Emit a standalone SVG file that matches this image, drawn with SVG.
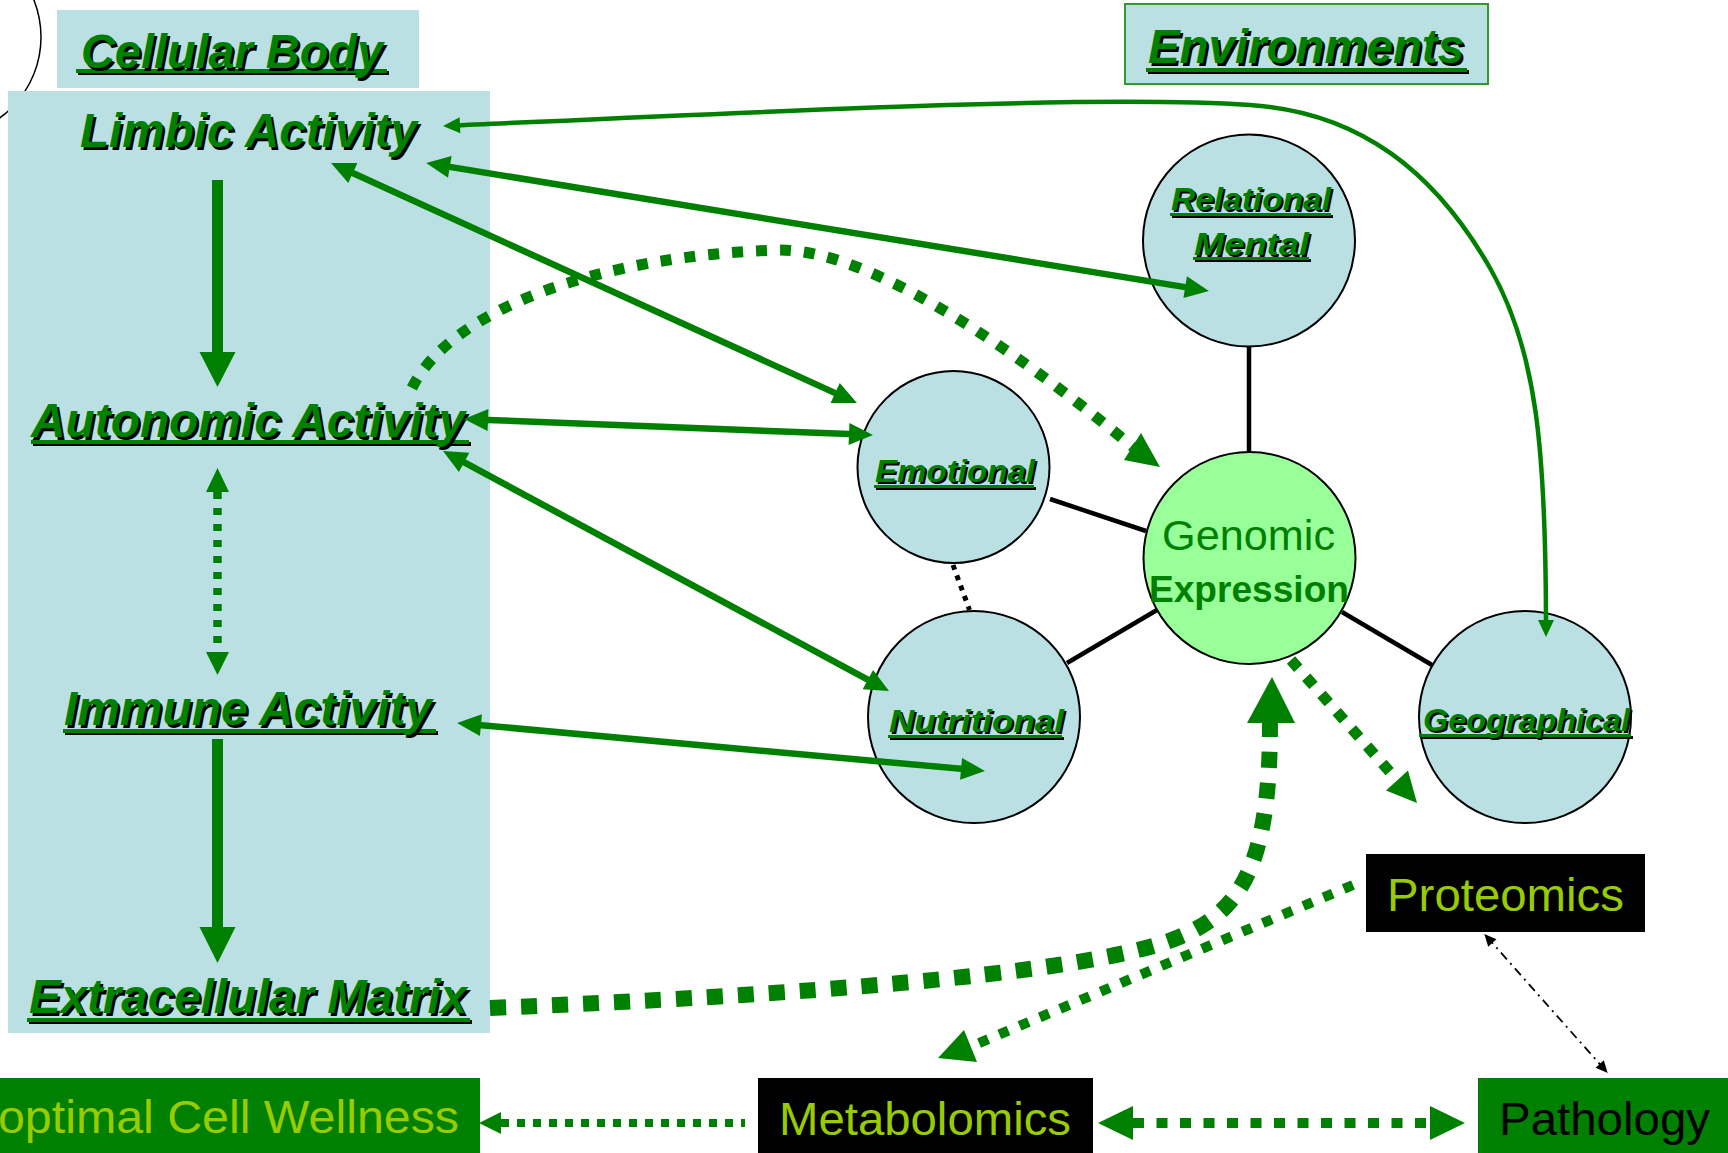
<svg xmlns="http://www.w3.org/2000/svg" width="1728" height="1153" viewBox="0 0 1728 1153">
<style>
.lab{font-family:"Liberation Sans",Arial,sans-serif;font-weight:bold;font-style:italic;fill:#008000}
.big{font-size:48px}
.sm{font-size:32px}
.sh{fill:#000}
.ul{fill:#008000}
.uls{fill:#000}
.panel{fill:#BBE0E3}
.node{fill:#BBE0E3;stroke:#000;stroke-width:2}
.blk{stroke:#000;stroke-width:4.5;fill:none}
.box{font-family:"Liberation Sans",Arial,sans-serif;font-size:47px}
.yg{fill:#99CC00}
.g{stroke:#008000;fill:none}
.gf{fill:#008000}
</style>
<defs>
<marker id="ah" markerUnits="userSpaceOnUse" viewBox="-15 -12 26 24" markerWidth="26" markerHeight="24" refX="0" refY="0" orient="auto-start-reverse"><path d="M-14,-11 L10,0 L-14,11 Z" fill="#008000"/></marker>
<marker id="as" markerUnits="userSpaceOnUse" viewBox="-11 -9 19 18" markerWidth="19" markerHeight="18" refX="0" refY="0" orient="auto-start-reverse"><path d="M-10,-8 L7,0 L-10,8 Z" fill="#008000"/></marker>
<marker id="ak" markerUnits="userSpaceOnUse" viewBox="-9 -6 14 12" markerWidth="14" markerHeight="12" refX="0" refY="0" orient="auto-start-reverse"><path d="M-8,-5.5 L4,0 L-8,5.5 Z" fill="#000"/></marker>
</defs>
<rect width="1728" height="1153" fill="#fff"/>
<circle cx="-59" cy="37" r="100" fill="none" stroke="#000" stroke-width="1.5"/>
<rect class="panel" x="8" y="91" width="482" height="942"/>
<g id="lines">
<line class="blk" x1="1249" y1="347" x2="1249" y2="452"/>
<line class="blk" x1="1050" y1="499" x2="1146" y2="531"/>
<line class="blk" x1="1067" y1="663" x2="1157" y2="610"/>
<line class="blk" x1="1342" y1="612" x2="1432" y2="665"/>
<line x1="953" y1="565" x2="969.5" y2="610" stroke="#000" stroke-width="5" stroke-dasharray="5 6"/>
</g>
<g id="cellular-body">
<rect class="panel" x="57" y="10" width="362" height="78"/>
<rect class="uls" x="78" y="71" width="311" height="4"/>
<rect class="ul" x="76" y="69" width="311" height="4"/>
<text class="lab big sh" x="83.5" y="70.5" textLength="302" lengthAdjust="spacingAndGlyphs">Cellular Body</text>
<text class="lab big" x="81" y="68" textLength="302" lengthAdjust="spacingAndGlyphs">Cellular Body</text>
</g>
<g id="limbic">
<text class="lab big sh" x="82.5" y="149.5" textLength="337" lengthAdjust="spacingAndGlyphs">Limbic Activity</text>
<text class="lab big" x="80" y="147" textLength="337" lengthAdjust="spacingAndGlyphs">Limbic Activity</text>
</g>
<g id="autonomic">
<rect class="uls" x="33" y="442" width="438" height="4"/>
<rect class="ul" x="31" y="440" width="438" height="4"/>
<text class="lab big sh" x="33.5" y="439.5" textLength="434" lengthAdjust="spacingAndGlyphs">Autonomic Activity</text>
<text class="lab big" x="31" y="437" textLength="434" lengthAdjust="spacingAndGlyphs">Autonomic Activity</text>
</g>
<g id="immune">
<rect class="uls" x="65" y="731" width="373" height="4"/>
<rect class="ul" x="63" y="729" width="373" height="4"/>
<text class="lab big sh" x="66.5" y="727.5" textLength="368" lengthAdjust="spacingAndGlyphs">Immune Activity</text>
<text class="lab big" x="64" y="725" textLength="368" lengthAdjust="spacingAndGlyphs">Immune Activity</text>
</g>
<g id="ecm">
<rect class="uls" x="29" y="1020" width="443" height="4"/>
<rect class="ul" x="27" y="1018" width="443" height="4"/>
<text class="lab big sh" x="31.5" y="1015.5" textLength="438" lengthAdjust="spacingAndGlyphs">Extracellular Matrix</text>
<text class="lab big" x="29" y="1013" textLength="438" lengthAdjust="spacingAndGlyphs">Extracellular Matrix</text>
</g>
<g id="environments">
<rect x="1125" y="4" width="363" height="80" fill="#BBE0E3" stroke="#339933" stroke-width="2"/>
<rect class="uls" x="1148" y="70" width="321" height="4"/>
<rect class="ul" x="1146" y="68" width="321" height="4"/>
<text class="lab big sh" x="1150.5" y="65.5" textLength="316" lengthAdjust="spacingAndGlyphs">Environments</text>
<text class="lab big" x="1148" y="63" textLength="316" lengthAdjust="spacingAndGlyphs">Environments</text>
</g>
<g id="relational">
<circle class="node" cx="1249" cy="240.5" r="106"/>
<rect class="uls" x="1172" y="215" width="161" height="3"/>
<rect class="ul" x="1170" y="213" width="161" height="3"/>
<text class="lab sm sh" x="1173" y="212" textLength="160" lengthAdjust="spacingAndGlyphs">Relational</text>
<text class="lab sm" x="1171" y="210" textLength="160" lengthAdjust="spacingAndGlyphs">Relational</text>
<rect class="uls" x="1195" y="259" width="116" height="3"/>
<rect class="ul" x="1193" y="257" width="116" height="3"/>
<text class="lab sm sh" x="1196" y="257" textLength="115" lengthAdjust="spacingAndGlyphs">Mental</text>
<text class="lab sm" x="1194" y="255" textLength="115" lengthAdjust="spacingAndGlyphs">Mental</text>
</g>
<g id="emotional">
<circle class="node" cx="953.5" cy="467" r="96"/>
<rect class="uls" x="876" y="487" width="160" height="3"/>
<rect class="ul" x="874" y="485" width="160" height="3"/>
<text class="lab sm sh" x="877" y="484" textLength="160" lengthAdjust="spacingAndGlyphs">Emotional</text>
<text class="lab sm" x="875" y="482" textLength="160" lengthAdjust="spacingAndGlyphs">Emotional</text>
</g>
<g id="nutritional">
<circle class="node" cx="974" cy="717" r="106"/>
<rect class="uls" x="890" y="737" width="174" height="3"/>
<rect class="ul" x="888" y="735" width="174" height="3"/>
<text class="lab sm sh" x="891" y="734" textLength="175" lengthAdjust="spacingAndGlyphs">Nutritional</text>
<text class="lab sm" x="889" y="732" textLength="175" lengthAdjust="spacingAndGlyphs">Nutritional</text>
</g>
<g id="geographical">
<circle class="node" cx="1525" cy="717" r="106"/>
<rect class="uls" x="1421" y="736" width="212" height="3"/>
<rect class="ul" x="1419" y="734" width="212" height="3"/>
<text class="lab sm sh" x="1425" y="733" textLength="207" lengthAdjust="spacingAndGlyphs">Geographical</text>
<text class="lab sm" x="1423" y="731" textLength="207" lengthAdjust="spacingAndGlyphs">Geographical</text>
</g>
<g id="genomic">
<circle cx="1249.5" cy="558" r="106" fill="#99FF99" stroke="#000" stroke-width="2"/>
<text x="1162" y="550" font-family="Liberation Sans, Arial, sans-serif" font-size="42" fill="#008000" textLength="173" lengthAdjust="spacingAndGlyphs">Genomic</text>
<text x="1149" y="602" font-family="Liberation Sans, Arial, sans-serif" font-size="37" font-weight="bold" fill="#008000" textLength="200" lengthAdjust="spacingAndGlyphs">Expression</text>
</g>
<g id="proteomics">
<rect x="1366" y="854" width="279" height="78" fill="#000"/>
<text class="box yg" x="1387" y="911" textLength="237" lengthAdjust="spacingAndGlyphs">Proteomics</text>
</g>
<g id="wellness">
<rect x="0" y="1078" width="480" height="75" fill="#008000"/>
<text class="box yg" x="-2" y="1133" textLength="461" lengthAdjust="spacingAndGlyphs">optimal Cell Wellness</text>
</g>
<g id="metabolomics">
<rect x="758" y="1078" width="335" height="75" fill="#000"/>
<text class="box yg" x="779" y="1135" textLength="292" lengthAdjust="spacingAndGlyphs">Metabolomics</text>
</g>
<g id="pathology">
<rect x="1478" y="1078" width="250" height="75" fill="#008000"/>
<text class="box" x="1499" y="1135" fill="#000" textLength="211" lengthAdjust="spacingAndGlyphs">Pathology</text>
</g>
<g id="connectors">
<rect class="gf" x="212" y="180" width="11" height="173"/>
<polygon class="gf" points="199.5,352 235.5,352 217.5,387"/>
<rect class="gf" x="212" y="739" width="11" height="189"/>
<polygon class="gf" points="199.5,927 235.5,927 217.5,963"/>
<line class="g" x1="217.5" y1="492" x2="217.5" y2="652" stroke-width="8.5" stroke-dasharray="7 9"/>
<polygon class="gf" points="206,492 229,492 217.5,468"/>
<polygon class="gf" points="206,652 229,652 217.5,675"/>
<path class="g" d="M450,125.7 C800,110 1100,95 1250,105 C1360,112 1435,172 1490,268 C1537,350 1546,450 1546,630" stroke-width="4.5" marker-start="url(#as)" marker-end="url(#as)"/>
<line class="g" x1="436" y1="164.6" x2="1199" y2="289.4" stroke-width="6.5" marker-start="url(#ah)" marker-end="url(#ah)"/>
<line class="g" x1="340.1" y1="167.2" x2="847.9" y2="398.9" stroke-width="6.5" marker-start="url(#ah)" marker-end="url(#ah)"/>
<line class="g" x1="474" y1="419.4" x2="863" y2="434.6" stroke-width="6.5" marker-start="url(#ah)" marker-end="url(#ah)"/>
<line class="g" x1="451.8" y1="455.7" x2="880.2" y2="686.3" stroke-width="6.5" marker-start="url(#ah)" marker-end="url(#ah)"/>
<line class="g" x1="467" y1="723.9" x2="975" y2="770.1" stroke-width="6.5" marker-start="url(#ah)" marker-end="url(#ah)"/>
<path class="g" d="M412,388 C450,310 600,255 780,250 C880,250 1040,370 1133,447" stroke-width="11" stroke-dasharray="11 13"/>
<polygon class="gf" points="1160,467 1141,433 1124,460"/>
<line class="g" x1="1291" y1="660" x2="1397" y2="780" stroke-width="11" stroke-dasharray="11 12"/>
<polygon class="gf" points="1417,803 1408,770.6 1386,790.4"/>
<path class="g" d="M490,1008 C800,995 1060,975 1160,944 C1240,919 1270,870 1270,723" stroke-width="16" stroke-dasharray="16 15"/>
<polygon class="gf" points="1272,677 1247,723 1295,723"/>
<line class="g" x1="1353" y1="885" x2="972" y2="1046" stroke-width="10" stroke-dasharray="10 12"/>
<polygon class="gf" points="938,1058 964,1030 977,1062"/>
<line class="g" x1="501" y1="1123" x2="745" y2="1123" stroke-width="8" stroke-dasharray="8 8"/>
<polygon class="gf" points="479,1123 501,1112 501,1134"/>
<line class="g" x1="1133" y1="1123" x2="1430" y2="1123" stroke-width="10" stroke-dasharray="11 12.5"/>
<polygon class="gf" points="1098,1123 1133,1106 1133,1140"/>
<polygon class="gf" points="1465,1123 1430,1106 1430,1140"/>
<line x1="1487" y1="937" x2="1605" y2="1070" stroke="#000" stroke-width="1.8" stroke-dasharray="9 5 2 5" marker-start="url(#ak)" marker-end="url(#ak)"/>
</g>
</svg>
